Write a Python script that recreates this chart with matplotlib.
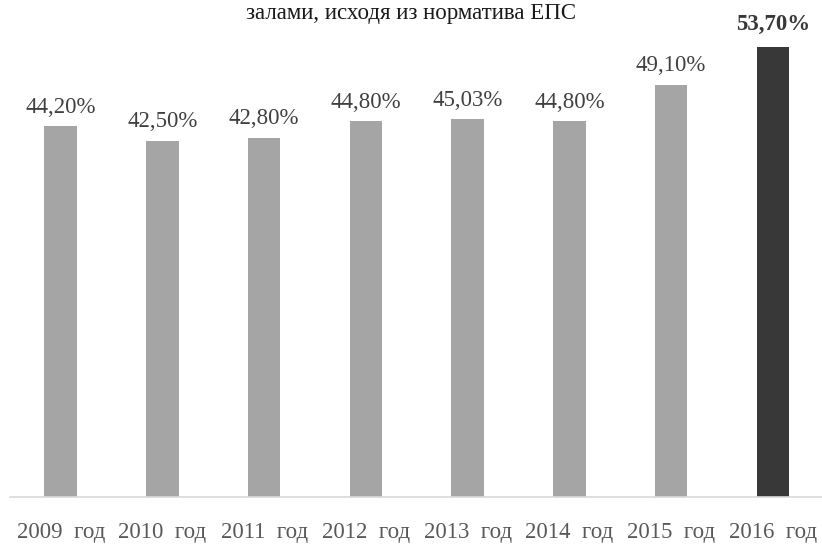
import matplotlib.pyplot as plt
import numpy as np

years = ['2009  год', '2010  год', '2011  год', '2012  год', '2013  год', '2014  год', '2015  год', '2016  год']
values = [44.20, 42.50, 42.80, 44.80, 45.03, 44.80, 49.10, 53.70]
value_labels = ['44,20%', '42,50%', '42,80%', '44,80%', '45,03%', '44,80%', '49,10%', '53,70%']
title_line = 'залами, исходя из норматива ЕПС'

plt.rcParams['font.family'] = ['Liberation Serif', 'DejaVu Serif']

fig = plt.figure(figsize=(8.22, 5.44), dpi=100)
ax = fig.add_axes([0.012, 0.0864, 0.99, 0.863])

x = np.arange(len(years))
colors = ['#a5a5a5'] * (len(years) - 1) + ['#383838']
bars = ax.bar(x, values, width=0.32, color=colors, zorder=2)

for i, (b, lab) in enumerate(zip(bars, value_labels)):
    last = i == len(years) - 1
    ax.annotate(lab, (b.get_x() + b.get_width() / 2, b.get_height()),
                xytext=(0, 12 if last else 10), textcoords='offset points',
                ha='center', va='baseline', fontsize=16.5,
                fontweight='bold' if last else 'normal',
                color='#383838' if last else '#404040')

ax.set_xlim(-0.5, len(years) - 0.5)
ax.set_ylim(0, 56)
ax.set_xticks(x)
ax.set_xticklabels(years, fontsize=16.5, color='#595959')
ax.tick_params(axis='x', length=0, pad=18)
ax.set_yticks([])
for s in ['top', 'right', 'left']:
    ax.spines[s].set_visible(False)
ax.spines['bottom'].set_color('#d9d9d9')
ax.spines['bottom'].set_linewidth(1.2)
ax.spines['bottom'].set_zorder(3)

# only the last line of the title is visible in the source image
fig.text(0.5, 1 - 19 / 544, title_line, ha='center', va='baseline',
         fontsize=16.5, color='#1a1a1a')

fig.savefig('out.png', dpi=100)
